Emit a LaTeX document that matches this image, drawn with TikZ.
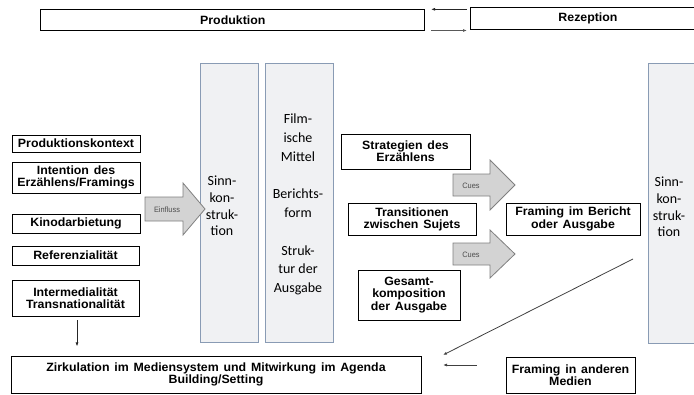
\documentclass[tikz,border=0pt]{standalone}
\usepackage{fontspec}
\setmainfont{Liberation Sans}[FakeStretch=1.03, WordSpace=1.4]
\newfontfamily\calfont{Carlito}
\newfontfamily\smallfont{Liberation Sans}[FakeStretch=0.95]
\usetikzlibrary{arrows.meta,calc}
\definecolor{colfill}{RGB}{240,241,243}
\definecolor{colline}{RGB}{137,155,180}
\definecolor{arrfill}{RGB}{211,211,211}
\definecolor{arrline}{RGB}{128,128,128}
\begin{document}
\begin{tikzpicture}[x=1pt,y=-1pt,
  box/.style={draw=black, line width=0.9pt, fill=white, align=center, inner sep=0pt,
    font=\bfseries\fontsize{12}{12.2}\selectfont},
  col/.style={draw=colline, line width=1pt, fill=colfill, inner sep=0pt},
  coltext/.style={align=center, inner sep=0pt, font=\calfont\fontsize{14}{16.7}\selectfont},
  blockarrow/.style={draw=arrline, line width=0.8pt, fill=arrfill},
  arrlabel/.style={inner sep=0pt, text=black!70, font=\smallfont\fontsize{7.8}{8}\selectfont},
  conn/.style={draw=black!85, line width=0.8pt, -{Latex[length=4pt,width=3pt]}}
]
\useasboundingbox (0,0) rectangle (694,394);
\clip (0,0) rectangle (694,394);

% top row
\node[box, minimum width=384pt, minimum height=21pt] (prod) at (232.8,20) {Produktion};
\node[box, minimum width=236pt, minimum height=21.5pt] (rez) at (588,18.4) {Rezeption};
\coordinate (t1s) at (467,9.3);
\coordinate (t1e) at (431,9.3);
\coordinate (t2s) at (431,30.5);
\coordinate (t2e) at (467,30.5);
\draw[conn] (t1s) -- (t1e);
\draw[conn, draw=black!65] (t2s) -- (t2e);

% columns
\node[col, minimum width=58pt, minimum height=279pt] (sinnA) at (229,202.5) {};
\node[coltext] (sinnAt) at (222,206) {Sinn-\\kon-\\struk-\\tion};
\node[col, minimum width=68pt, minimum height=279pt] (film) at (299,202.5) {};
\node[coltext, font=\calfont\fontsize{14}{18.75}\selectfont] (filmt) at (298,204.5)
  {Film-\\ische\\Mittel\\[18.75pt]Berichts-\\form\\[18.75pt]Struk-\\tur der\\Ausgabe};
\node[col, minimum width=62pt, minimum height=280pt] (sinnB) at (679,203) {};
\node[coltext] (sinnBt) at (669,207) {Sinn-\\kon-\\struk-\\tion};

% left boxes
\node[box, minimum width=128pt, minimum height=17pt] (pk) at (76,143.5) {Produktionskontext};
\node[box, minimum width=128pt, minimum height=31pt] (intent) at (76,177.5) {Intention des\\Erzählens/Framings};
\node[box, minimum width=128pt, minimum height=19pt] (kino) at (76,223.5) {Kinodarbietung};
\node[box, minimum width=127pt, minimum height=19pt] (ref) at (75.5,255.5) {Referenzialität};
\node[box, minimum width=127pt, minimum height=36pt] (inter) at (75.5,298) {Intermedialität\\Transnationalität};
\node[box, minimum width=410pt, minimum height=37pt] (zirk) at (216,374.5)
  {Zirkulation im Mediensystem und Mitwirkung im Agenda\\Building/Setting};

% right boxes
\node[box, minimum width=129pt, minimum height=35pt] (strat) at (405.5,151.5) {Strategien des\\Erzählens};
\node[box, minimum width=128pt, minimum height=32pt] (trans) at (412,219) {Transitionen\\zwischen Sujets};
\node[box, minimum width=134pt, minimum height=32pt] (fib) at (573,219) {Framing im Bericht\\oder Ausgabe};
\node[box, minimum width=102pt, minimum height=50pt] (ges) at (409,295) {Gesamt-\\komposition\\der Ausgabe};
\node[box, minimum width=129pt, minimum height=36pt] (fam) at (570.5,375) {Framing in anderen\\Medien};

% block arrows
\draw[blockarrow] (145,197) -- (183,197) -- (183,183) -- (205,209) -- (183,235) -- (183,221) -- (145,221) -- cycle;
\node[arrlabel] (einfl) at (167,209.5) {Einfluss};
\draw[blockarrow] (453,174) -- (490,174) -- (490,160) -- (515,185) -- (490,210) -- (490,196) -- (453,196) -- cycle;
\node[arrlabel] (cues1) at (471,185.5) {Cues};
\draw[blockarrow] (453,243) -- (490,243) -- (490,230) -- (515,254) -- (490,278) -- (490,265) -- (453,265) -- cycle;
\node[arrlabel] (cues2) at (471,254.5) {Cues};

% connectors
\coordinate (d1s) at ($(inter.south)+(1.5,4)$);
\coordinate (d1e) at ($(inter.south)+(1.5,30)$);
\draw[conn] (d1s) -- (d1e);
\coordinate (diagS) at (633,259);
\coordinate (diagE) at (443,355);
\draw[conn, draw=black!75] (diagS) -- (diagE);
\coordinate (hE) at (443,365);
\draw[conn, draw=black!75] (fam.west |- hE) ++(-29,0) coordinate (hS) -- (hE);
\end{tikzpicture}
\end{document}
